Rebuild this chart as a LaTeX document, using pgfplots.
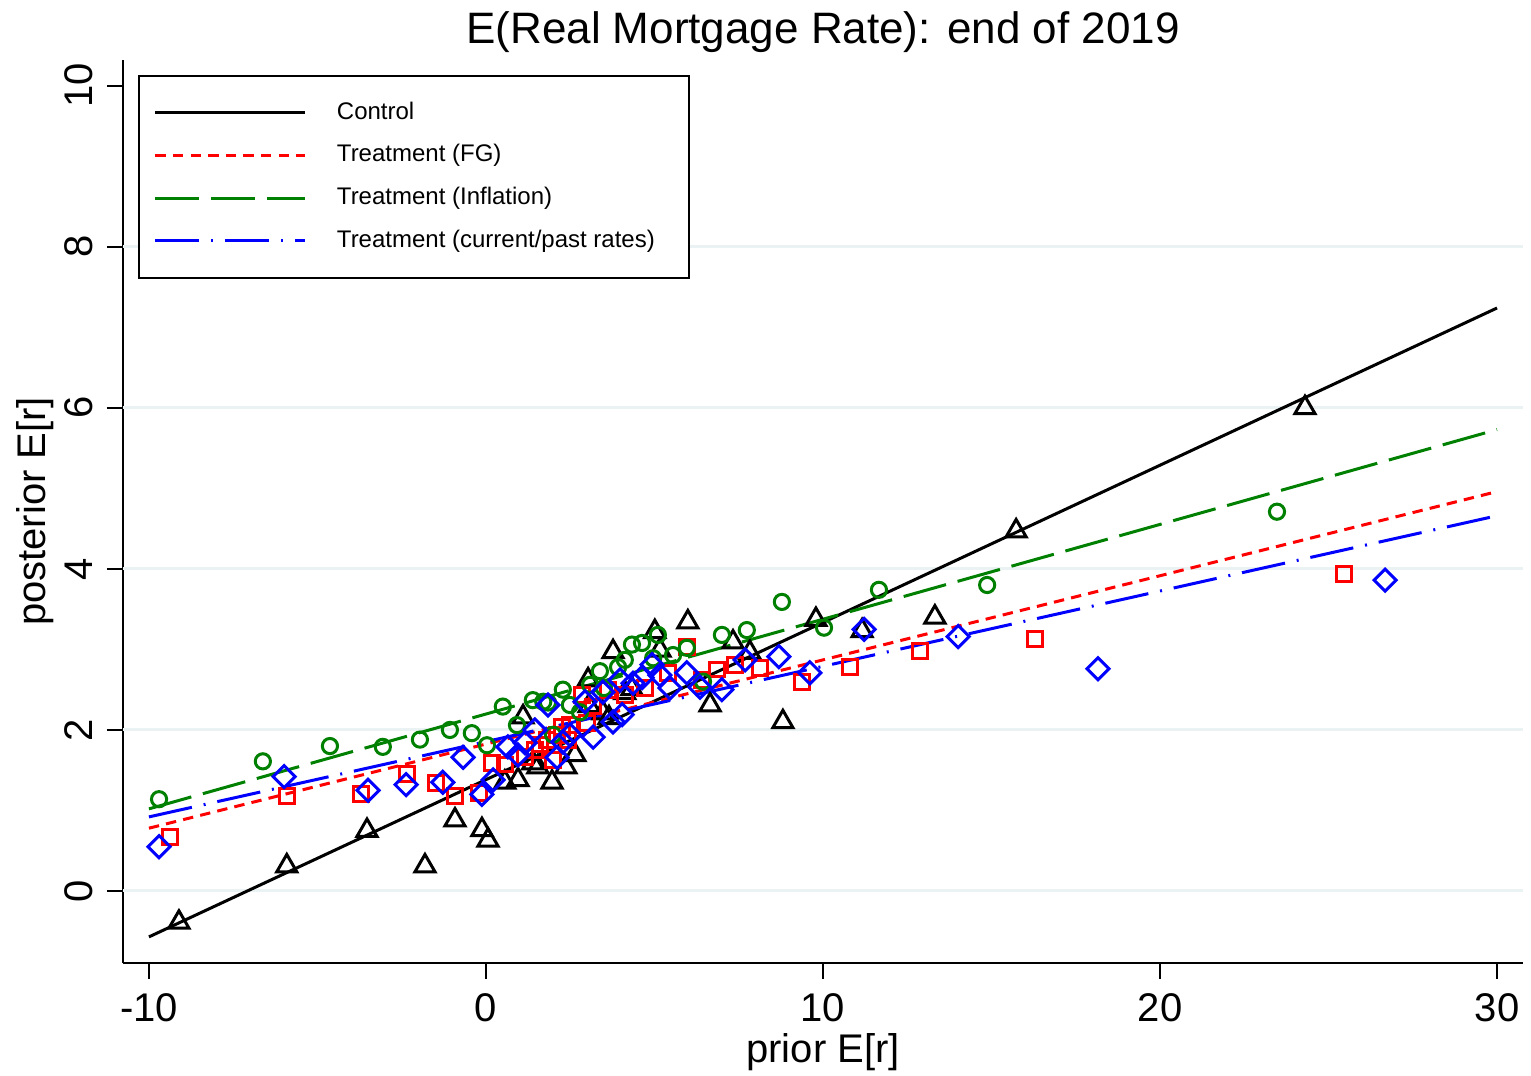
\documentclass[border=0pt]{standalone}
\usepackage{fontspec}
\setmainfont{Liberation Sans}
\usepackage{pgfplots}
\usepackage{pgfplotstable}
\pgfplotsset{compat=1.18}
\definecolor{sgreen}{RGB}{0,128,0}
\definecolor{gridc}{RGB}{234,242,243}

% prior / posterior pairs by group
\pgfplotstableread{
x y
-9.11 -0.39
-5.91 0.31
-3.53 0.75
-1.81 0.31
-0.92 0.88
-0.12 0.76
0.06 0.63
0.56 1.35
0.95 1.38
1.10 2.16
1.39 1.59
1.54 1.54
1.96 1.35
2.37 1.54
2.64 1.69
3.03 2.62
3.06 2.30
3.47 2.21
3.65 2.15
3.77 2.97
4.12 2.46
4.33 2.51
5.01 3.22
5.16 2.99
5.99 3.34
6.65 2.31
7.33 3.09
7.83 2.96
8.81 2.10
9.79 3.37
11.16 3.23
13.32 3.40
15.73 4.47
24.30 6.00
}\control

\pgfplotstableread{
x y
-9.38 0.67
-5.91 1.18
-3.71 1.20
-2.34 1.45
-1.48 1.34
-0.92 1.18
-0.21 1.22
0.18 1.59
0.56 1.57
1.16 1.66
1.45 1.75
1.60 1.82
1.81 1.88
1.99 1.63
2.11 1.94
2.26 2.04
2.49 2.06
2.43 1.88
3.00 2.09
3.18 2.29
2.85 2.43
3.62 2.50
4.12 2.43
4.72 2.52
5.40 2.71
5.96 3.03
6.41 2.62
6.85 2.75
7.39 2.81
8.13 2.77
9.38 2.60
10.80 2.78
12.88 2.98
16.29 3.13
25.46 3.94
}\fg

\pgfplotstableread{
x y
-9.70 1.14
-6.62 1.61
-4.63 1.80
-3.06 1.79
-1.96 1.88
-1.07 2.00
-0.42 1.96
0.03 1.81
0.50 2.29
0.92 2.06
1.39 2.37
1.70 2.35
1.84 2.34
1.99 1.94
2.28 2.50
2.49 2.31
2.79 2.22
3.09 2.56
3.38 2.73
3.50 2.52
3.92 2.78
4.12 2.87
4.33 3.06
4.63 3.08
4.96 2.89
5.10 3.18
5.55 2.93
5.96 3.02
6.44 2.60
7.00 3.18
7.74 3.24
8.78 3.59
10.03 3.27
11.66 3.74
14.87 3.80
23.47 4.71
}\infl

\pgfplotstableread{
x y
-9.70 0.55
-5.99 1.42
-3.50 1.25
-2.37 1.32
-1.28 1.35
-0.68 1.66
-0.12 1.20
0.21 1.38
0.65 1.79
0.95 1.69
1.16 1.84
1.45 2.00
1.84 2.31
2.11 1.66
2.28 1.85
2.49 1.94
2.94 2.35
3.18 1.91
3.47 2.47
3.77 2.10
4.04 2.19
3.98 2.62
4.36 2.58
4.63 2.65
4.93 2.81
5.16 2.68
5.46 2.52
5.96 2.71
6.35 2.53
7.00 2.50
7.69 2.87
8.69 2.91
9.61 2.71
11.22 3.25
14.01 3.16
18.16 2.76
26.68 3.86
}\rates

\begin{document}
\begin{tikzpicture}
\begin{axis}[
  scale only axis, width=350pt, height=225.75pt,
  xmin=-10.77, xmax=30.77, ymin=-0.894, ymax=10.32,
  axis x line*=bottom, axis y line*=left,
  axis line style={-, line width=0.5pt},
  xtick={-10,0,10,20,30}, ytick={0,2,4,6,8,10},
  extra y ticks={0,2,4,6,8}, extra y tick labels={},
  extra y tick style={grid=major, major tick length=0pt},
  grid style={gridc, line width=0.75pt},
  tick align=outside, major tick length=4pt,
  tick style={black, line width=0.4pt},
  /pgf/number format/assume math mode=true,
  ticklabel style={font=\fontsize{10}{12}\selectfont},
  yticklabel style={rotate=90, anchor=south},
  title={E(Real Mortgage Rate): end of 2019},
  every axis title shift=0pt,
  title style={font=\fontsize{11}{13}\selectfont, at={([yshift=4pt]axis description cs:0.5,1)}, anchor=base},
  xlabel={prior E[r]}, ylabel={posterior E[r]},
  label style={font=\fontsize{10}{12}\selectfont},
  xlabel style={at={([yshift=-25pt]axis description cs:0.5,0)}, anchor=base},
  ylabel style={at={([xshift=-19.5pt]axis description cs:0,0.5)}, anchor=base},
  legend style={at={(0.0107,0.9834)}, anchor=north west, draw=black, line width=0.5pt,
    font=\fontsize{6.0}{7}\selectfont, inner xsep=3.75pt, inner ysep=6.25pt, row sep=4.65pt,
    nodes={inner sep=0pt, text height=4.6pt, text depth=1.4pt},
    /tikz/every odd column/.append style={column sep=7.5pt}},
  legend cell align=left,
  legend image code/.code={\draw[#1] (0pt,0pt) -- (37.5pt,0pt);},
]
\addplot[only marks, mark=triangle, mark size=2.9pt, black, line width=0.75pt, forget plot] table {\control};
\addplot[only marks, mark=square, mark size=1.85pt, red, line width=0.75pt, forget plot] table {\fg};
\addplot[only marks, mark=o, mark size=1.9pt, sgreen, line width=0.75pt, forget plot] table {\infl};
\addplot[only marks, mark=square, mark size=1.95pt, mark options={rotate=45}, blue, line width=0.75pt, forget plot] table {\rates};

\addplot[black, line width=0.75pt] coordinates {(-10,-0.57) (30,7.24)};
\addlegendentry{Control}
\addplot[red, line width=0.75pt, dash pattern=on 2.6pt off 1.8pt] coordinates {(-10,0.78) (30,4.96)};
\addlegendentry{Treatment (FG)}
\addplot[sgreen, line width=0.75pt, dash pattern=on 11pt off 3pt] coordinates {(-10,1.02) (30,5.73)};
\addlegendentry{Treatment (Inflation)}
\addplot[blue, line width=0.75pt, dash pattern=on 11pt off 3pt on 0.5pt off 3pt] coordinates {(-10,0.92) (30,4.66)};
\addlegendentry{Treatment (current/past rates)\rule{4.75pt}{0pt}}

\path (rel axis cs:0,0) coordinate (sw) (rel axis cs:1,1) coordinate (ne);
\end{axis}
\pgfresetboundingbox
\path[use as bounding box] ([shift={(-30.75pt,-28.25pt)}]sw) rectangle ([shift={(2pt,15pt)}]ne);
\end{tikzpicture}
\end{document}
